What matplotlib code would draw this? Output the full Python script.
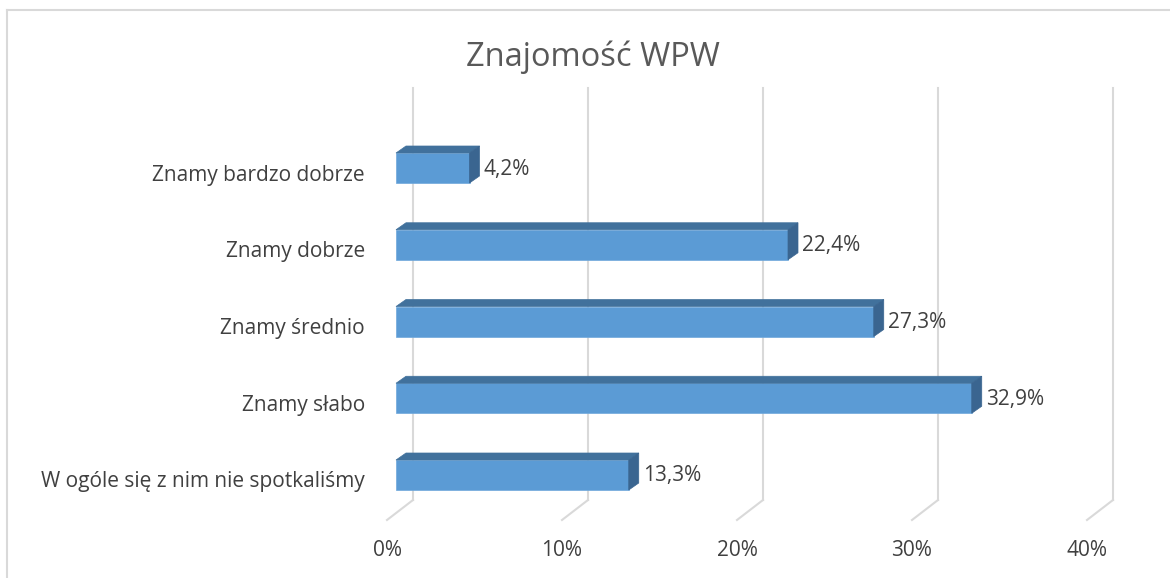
import matplotlib.pyplot as plt
from matplotlib.patches import Polygon
import matplotlib as mpl

mpl.rcParams['font.family'] = ['Open Sans', 'DejaVu Sans']

categories = ["Znamy bardzo dobrze", "Znamy dobrze", "Znamy średnio",
              "Znamy słabo", "W ogóle się z nim nie spotkaliśmy"]
values = [4.2, 22.4, 27.3, 32.9, 13.3]
value_labels = ["4,2%", "22,4%", "27,3%", "32,9%", "13,3%"]
ticks = [0, 10, 20, 30, 40]
tick_labels = ["0%", "10%", "20%", "30%", "40%"]

front = "#5B9BD5"
top = "#41719C"
side = "#3A6590"
grid_c = "#D9D9D9"
text_c = "#404040"

W, H = 1170, 578
fig = plt.figure(figsize=(W / 100, H / 100), dpi=100)
ax = fig.add_axes([0, 0, 1, 1])

# data units: 1% = 17.5 px, one category = 76.75 px
px_x = 17.5
px_y = 76.75
x0 = 396
y0 = 168
ax.set_xlim(-x0 / px_x, (W - x0) / px_x)
ax.set_ylim((H - y0) / px_y, -y0 / px_y)
ax.axis('off')

dx = 10 / px_x
dy = 7 / px_y
h = 30 / px_y

# gridlines: back wall + diagonal floor line
g_back = 17 / px_x
g_front = -9 / px_x
for t in ticks:
    xb = t + g_back
    ax.plot([xb, xb], [-80 / px_y, 332 / px_y], color=grid_c, lw=1.5, zorder=1)
    ax.plot([xb, t + g_front], [332 / px_y, 352 / px_y], color=grid_c, lw=1.5, zorder=1)

for i, (v, lab) in enumerate(zip(values, value_labels)):
    yt, yb = i - h / 2, i + h / 2
    ax.barh(i, v, height=h, color=front, edgecolor="#6FA8DC", lw=0.5, zorder=3)
    ax.add_patch(Polygon([(0, yt), (dx, yt - dy), (v + dx, yt - dy), (v, yt)],
                         closed=True, fc=top, ec=top, lw=0.5, zorder=3))
    ax.add_patch(Polygon([(v, yt), (v + dx, yt - dy), (v + dx, yb - dy), (v, yb)],
                         closed=True, fc=side, ec=side, lw=0.5, zorder=3))
    ax.text(v + dx + 4 / px_x, i + 1 / px_y, lab, ha='left', va='center',
            fontsize=15, color=text_c, zorder=4)
    ax.text(-31 / px_x, i + 7 / px_y, categories[i], ha='right', va='center',
            fontsize=15, color=text_c)

for t, lab in zip(ticks, tick_labels):
    ax.text(t - 9 / px_x, 382 / px_y, lab, ha='center', va='center',
            fontsize=15, color=text_c)

ax.text(593 / px_x - x0 / px_x, (57 - y0) / px_y, "Znajomość WPW", ha='center',
        va='center', fontsize=23.5, color="#595959")

# chart area border
fig.add_artist(plt.Line2D([7 / W, 7 / W], [0, 1 - 10 / H], color=grid_c, lw=1.5,
                          transform=fig.transFigure))
fig.add_artist(plt.Line2D([7 / W, 1], [1 - 10 / H, 1 - 10 / H], color=grid_c, lw=1.5,
                          transform=fig.transFigure))

fig.savefig("out.png", dpi=100, facecolor='white')
